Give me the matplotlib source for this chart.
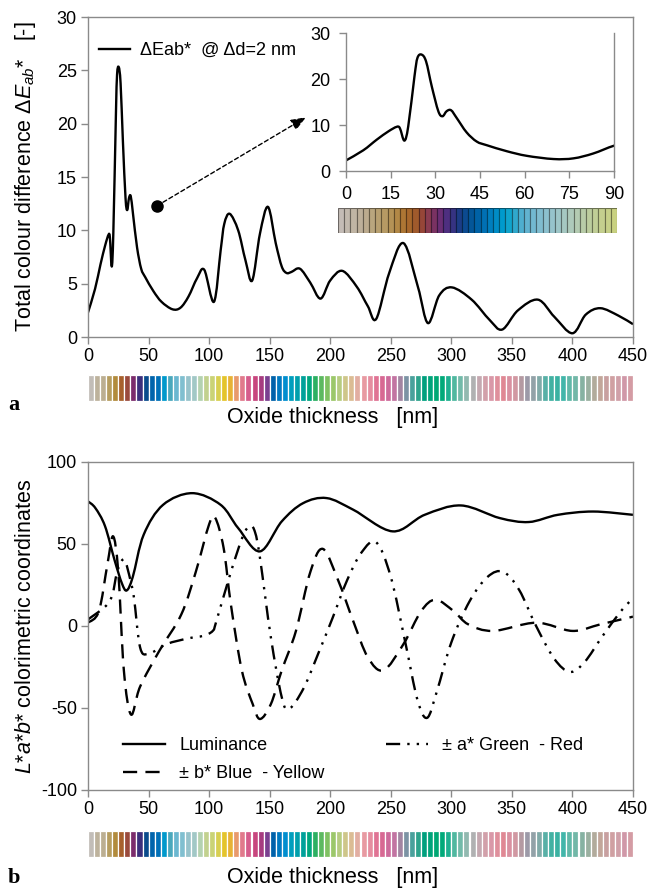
import numpy as np
import matplotlib
matplotlib.use('Agg')
import matplotlib.pyplot as plt
from matplotlib.path import Path
from matplotlib.patches import PathPatch
from matplotlib.lines import Line2D
from matplotlib.colors import to_rgb

plt.rcParams['font.family'] = ['Liberation Sans', 'DejaVu Sans']
plt.rcParams['mathtext.fontset'] = 'custom'
plt.rcParams['mathtext.rm'] = 'Liberation Sans'
plt.rcParams['mathtext.it'] = 'Liberation Sans:italic'
plt.rcParams['mathtext.bf'] = 'Liberation Sans:bold'
plt.rcParams['axes.unicode_minus'] = False

# ---- panel a: total colour difference vs oxide thickness -------------------
thick_a = [0, 5.8, 10.3, 14.2, 17, 18.1, 19.6, 20.9, 23, 24,
           25.4, 26.9, 28.8, 31, 32.4, 33.8, 35.3, 37.2, 40.5, 43.9,
           47.3, 54, 60.7, 69.7, 76.4, 83, 90, 96, 104, 109.5,
           112.5, 117, 124, 130, 135.6, 142, 148.6, 155, 160, 164,
           168, 175, 183.5, 192, 200, 210, 222, 231, 238, 248.7,
           260.5, 272.4, 280.7, 290, 300.5, 316.8, 331.6, 342, 355, 371.5,
           385, 400, 411, 423, 438, 450]
de_a = [2.3, 4.5, 6.8, 8.6, 9.6, 9.3, 6.6, 9.7, 20.6, 24.6,
        25.3, 23.8, 18.4, 13.0, 11.9, 13.0, 13.2, 11.5, 8.4, 6.4,
        5.6, 4.3, 3.3, 2.6, 2.75, 3.8, 5.5, 6.3, 3.3, 8.1,
        10.6, 11.55, 10.0, 7.2, 5.3, 9.7, 12.2, 8.8, 6.6, 6.0,
        6.1, 6.4, 5.1, 3.6, 5.3, 6.2, 4.7, 2.9, 1.7, 6.0,
        8.8, 4.7, 1.3, 3.9, 4.65, 3.5, 1.6, 0.7, 2.5, 3.5,
        1.9, 0.35, 2.1, 2.7, 2.0, 1.2]

# ---- panel b: L*a*b* coordinates ------------------------------------------
thick_L = [0, 6, 14, 22, 28, 32, 37, 46, 62, 86, 109.5, 124, 142, 160,
           177.6, 197, 219, 251.6, 278, 308, 340, 364, 388, 417, 450]
lum = [76, 72, 61, 40, 26, 21.7, 30, 55.7, 73.9, 81, 73.9, 59.7, 45.5, 63.8,
       74.9, 78, 70.9, 57.7, 67.8, 73.5, 65.8, 63.4, 67.8, 69.8, 67.8]

thick_b = [0, 9, 16, 20.7, 25, 29.6, 35.5, 43, 59, 77, 89, 100, 105, 112,
           118, 127, 136, 142, 151, 160, 171.7, 183.6, 194, 207, 219, 231,
           244, 260.5, 275, 287, 302, 314, 334.5, 370, 400, 423, 450]
b_star = [2, 9, 37.5, 54.7, 33, -27, -54, -37, -15, 7, 33, 62, 66, 47.5,
          13, -27, -47.6, -56.7, -47.6, -27, -3, 33, 47, 27, 3, -19,
          -27, -11, 9, 16, 9, 1, -3, 2, -3, 1, 5.7]

thick_a2 = [0, 17.8, 24, 28, 31, 35, 38, 43, 50, 65, 83, 95, 103, 106,
            118, 128, 134, 138, 142, 151, 160, 166, 178, 190, 202, 214,
            226, 238, 250, 262, 272, 280, 288, 300, 315, 330, 343, 356,
            370, 385, 398, 410, 425, 440, 450]
a_star = [4, 15, 33, 40, 39, 28, 17, -13, -17, -11, -7.5, -6, -3, 3,
          33, 55, 61, 57, 41.5, -7, -43.5, -50.6, -38, -17, 5, 28,
          45, 51, 30, -10, -45, -56, -40, -10, 15, 30, 33, 22,
          0, -20, -28, -22, -6, 9, 17]

# ---- colour swatches (5 nm steps, 0-445) ----------------------------------
swatch_main = [
    '#c2bdb8', '#bdb29c', '#bcaf92', '#b69d60', '#b28b3c', '#a7602c', '#9a4a3c',
    '#7c2c6c', '#3c2f7c', '#0a4b8c', '#0064ac', '#0070b8', '#0099cc', '#4aa8bc',
    '#6bb7d0', '#80bfd0', '#97c3cb', '#a2c8c6', '#b4d2b0', '#c2d18e', '#cad376',
    '#d8cf50', '#e4c42c',
    '#e7b235', '#e89a6c', '#e17a8c', '#d65d8c', '#c8467e', '#a63c80', '#7a4090',
    '#0062aa', '#0079c0', '#008ecf', '#009ebd', '#00a0ac', '#00a19a', '#00a67e',
    '#2cb062', '#5cb960', '#7fc162', '#9cc86a', '#b6cc80', '#cec68a', '#dbbc94',
    '#e2aea2', '#e89aa2',
    '#e58da0', '#e07394', '#d86893', '#cd6a9b', '#c274a2', '#a285a2', '#7c93a4',
    '#4aa19c', '#2ea38c', '#00a07e', '#00a47a', '#00a874', '#00aa7a', '#1eb090',
    '#50b8a0', '#72baa9', '#92b9b0', '#b0b1b2', '#c4a8b0', '#d2a0aa', '#d998a8',
    '#df8f9c',
    '#e08894', '#d990a0', '#d198a2', '#b49aa2', '#9c9aa8', '#92a2a8', '#80aaa8',
    '#58b0a6', '#42b1a2', '#3ab2a2', '#42b6aa', '#60b8a8', '#72b8a8', '#86b2a2',
    '#9ab0a0', '#b2ab9c', '#c2a69a', '#c8a0a0', '#d0a0a2', '#d0a0a8', '#d098a8',
    '#d49ca4']
swatch_main_x = list(range(0, 450, 5))

# inset swatches (2 nm steps, 0-88)
swatch_inset = [
    '#c4bcb6', '#c2b9ae', '#c0b5a4', '#beb09a', '#bcab8e', '#b9a67e', '#b8a070',
    '#b69a64', '#b49256', '#b28846', '#ad7634', '#a8682c', '#a05a2c', '#964638',
    '#8a3c50', '#7a3262', '#6a2e74', '#4e2f80', '#363382', '#1c3c86', '#0c4a90',
    '#045698', '#0062a6', '#0070b4', '#007ebe', '#008cc6', '#009acc', '#10a4cc',
    '#30a8cc', '#4eaecf', '#62b3d0', '#72b8d0', '#80bccf', '#8cc0ce', '#96c3cc',
    '#9ec6c8', '#a6c8c2', '#aecabb', '#b4cbb2', '#b8cca8', '#bccd9e', '#c0ce96',
    '#c4cf8e', '#c6d088', '#c8d180']
swatch_inset_x = list(range(0, 90, 2))

W, H = 660, 891
GREY = '#8a8a8a'


def px_rect(x0, y0, x1, y1):
    return [x0 / W, 1 - y1 / H, (x1 - x0) / W, (y1 - y0) / H]


def smooth_path(x, y):
    # Excel-like smoothed line: cubic Bezier through the points
    pts = np.column_stack([x, y]).astype(float)
    n = len(pts)
    verts = [pts[0]]
    codes = [Path.MOVETO]
    for i in range(n - 1):
        p0 = pts[max(i - 1, 0)]
        p1 = pts[i]
        p2 = pts[i + 1]
        p3 = pts[min(i + 2, n - 1)]
        verts += [p1 + (p2 - p0) / 6, p2 - (p3 - p1) / 6, p2]
        codes += [Path.CURVE4] * 3
    return Path(verts, codes)


def draw_curve(ax, x, y, ls='-', lw=1.7):
    ax.add_patch(PathPatch(smooth_path(x, y), fill=False, ec='black',
                           lw=lw, ls=ls, capstyle='butt', joinstyle='round'))


def style_axes(ax, box=True):
    for side in ['left', 'right', 'top', 'bottom']:
        ax.spines[side].set_color(GREY)
        ax.spines[side].set_linewidth(1.0)
    if not box:
        ax.spines['top'].set_visible(False)
    ax.tick_params(direction='out', length=5, width=1, color=GREY,
                   labelsize=13, pad=3, top=False, right=False)


def swatch_bar(rect, xs, cols, step, edge):
    axc = fig.add_axes(rect)
    if edge == 'dark':
        ecs = [tuple(np.array(to_rgb(c)) * 0.55) for c in cols]
        lw = 0.8
    else:
        ecs = 'white'
        lw = 0.9
    axc.bar(xs, 1, width=step, align='edge', color=cols, edgecolor=ecs, linewidth=lw)
    axc.set_xlim(xs[0], xs[-1] + step)
    axc.set_ylim(0, 1)
    axc.axis('off')
    return axc


fig = plt.figure(figsize=(W / 100, H / 100), dpi=100)

DASH = (0, (6, 3.5))
DASHDOTDOT = (0, (6, 3, 1, 3, 1, 3))

# ── panel a ─────────────────────────────────────────────────────────────
ax = fig.add_axes(px_rect(88, 17, 633, 337))
draw_curve(ax, thick_a, de_a)
ax.set_xlim(0, 450)
ax.set_ylim(0, 30)
ax.set_xticks(np.arange(0, 451, 50))
ax.set_yticks(np.arange(0, 31, 5))
style_axes(ax)
ax.legend([Line2D([], [], color='black', lw=1.7)], ['ΔEab*  @ Δd=2 nm'],
          loc='upper left', bbox_to_anchor=(0.0, 0.955), frameon=False,
          fontsize=13, handlelength=1.7, handletextpad=0.6, borderaxespad=0.2)

ax.plot([57], [12.3], 'o', ms=8, color='black')
ax.annotate('', xy=(180, 20.6), xytext=(57, 12.3),
            arrowprops=dict(arrowstyle='-|>,head_length=0.9,head_width=0.35',
                            ls=(0, (3, 2)), lw=1.0, color='black',
                            shrinkA=0, shrinkB=0))

axi = fig.add_axes(px_rect(346, 33, 614, 171))
axi.patch.set_alpha(0)
draw_curve(axi, thick_a, de_a)
axi.set_xlim(0, 90)
axi.set_ylim(0, 30)
axi.set_xticks(np.arange(0, 91, 15))
axi.set_yticks(np.arange(0, 31, 10))
style_axes(axi, box=False)
axi.tick_params(pad=6)

swatch_bar(px_rect(338, 208, 617, 233), swatch_inset_x, swatch_inset, 2, 'dark')
swatch_bar(px_rect(88, 375, 633, 401), swatch_main_x, swatch_main, 5, 'white')

fig.text(333 / W, 1 - 418 / H, 'Oxide thickness   [nm]', ha='center', va='center',
         fontsize=15.5)
fig.text(26 / W, 1 - 177 / H, 'Total colour difference Δ$E_{ab}$*   [-]',
         rotation=90, ha='center', va='center', fontsize=15.5)
fig.text(8 / W, 1 - 405 / H, 'a', fontsize=16, fontweight='bold',
         family='Liberation Serif', va='center')

# ── panel b ─────────────────────────────────────────────────────────────
bx = fig.add_axes(px_rect(88, 462, 633, 790))
draw_curve(bx, thick_L, lum)
draw_curve(bx, thick_b, b_star, ls=DASH)
draw_curve(bx, thick_a2, a_star, ls=DASHDOTDOT)
bx.set_xlim(0, 450)
bx.set_ylim(-100, 100)
bx.set_xticks(np.arange(0, 451, 50))
bx.set_yticks(np.arange(-100, 101, 50))
style_axes(bx)

handles = [Line2D([], [], color='black', lw=1.7),
           Line2D([], [], color='black', lw=1.7, ls=DASH),
           Line2D([], [], color='black', lw=1.7, ls=DASHDOTDOT)]
labels = ['Luminance', '± b* Blue  - Yellow', '± a* Green  - Red']
bx.legend(handles, labels, ncol=2, loc='lower left', bbox_to_anchor=(0.05, 0.0),
          frameon=False, fontsize=13, handlelength=2.3, handletextpad=0.8,
          columnspacing=3.4, labelspacing=0.6, borderaxespad=0.05)

swatch_bar(px_rect(88, 831, 633, 857), swatch_main_x, swatch_main, 5, 'white')

fig.text(333 / W, 1 - 877 / H, 'Oxide thickness   [nm]', ha='center', va='center',
         fontsize=15.5)
fig.text(26 / W, 1 - 626 / H, '$L$*$a$*$b$* colorimetric coordinates',
         rotation=90, ha='center', va='center', fontsize=15.5)
fig.text(8 / W, 1 - 878 / H, 'b', fontsize=16, fontweight='bold',
         family='Liberation Serif', va='center')

fig.savefig('out.png', dpi=100)
